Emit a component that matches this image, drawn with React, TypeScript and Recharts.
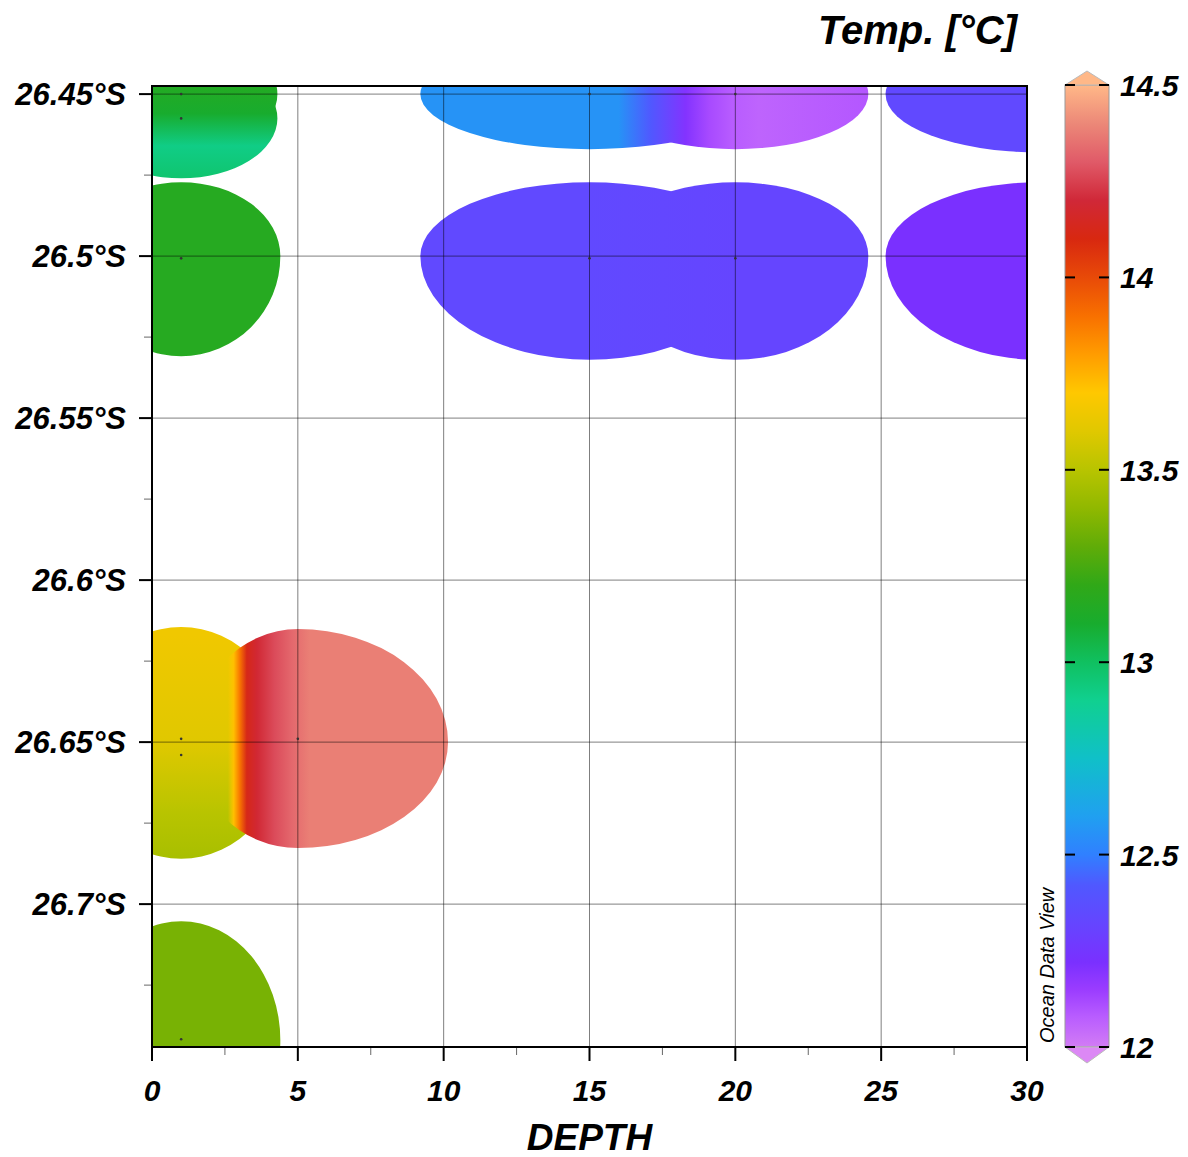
import React from "react";
import {
  ComposedChart,
  XAxis,
  YAxis,
  ReferenceArea,
  ReferenceLine,
  Scatter,
} from "recharts";

const FONT = '"Liberation Sans", Arial, sans-serif';
const W = 1188;
const H = 1157;

// colour scale of the Temp. [°C] bar
const scaleTemps = [12.0, 12.08, 12.15, 12.22, 12.32, 12.42, 12.5, 12.6, 12.75, 12.9, 13.0, 13.1, 13.2, 13.3, 13.4, 13.5, 13.6, 13.7, 13.8, 13.9, 14.0, 14.1, 14.2, 14.3, 14.4, 14.5];
const scaleColors = ["#d27cf5", "#b85cff", "#9a3cff", "#7a30ff", "#6545ff", "#5058ff", "#3080ff", "#20a0f0", "#10c0c8", "#10d090", "#10c060", "#18ac2e", "#30a818", "#60ac08", "#90b800", "#b8c400", "#e0c800", "#ffc800", "#ff9c00", "#f87000", "#e84a08", "#d82810", "#d02838", "#e05a68", "#ec8878", "#ffb888"];

// axes
const xTicks = [0, 2.5, 5, 7.5, 10, 12.5, 15, 17.5, 20, 22.5, 25, 27.5, 30];
const xMajor = [0, 5, 10, 15, 20, 25, 30];
const yTicks = [26.45, 26.475, 26.5, 26.525, 26.55, 26.575, 26.6, 26.625, 26.65, 26.675, 26.7, 26.725];
const yMajor = [26.45, 26.5, 26.55, 26.6, 26.65, 26.7];
const latDomain = [26.4475, 26.7441];
const barTicks = [12, 12.5, 13, 13.5, 14, 14.5];

// sample positions
const stationDepth = [1, 1, 1, 15, 20, 15, 20, 1, 1, 5, 1];
const stationLat = [26.45, 26.4575, 26.5007, 26.45, 26.45, 26.5007, 26.5007, 26.649, 26.654, 26.649, 26.7417];

// gridded field footprints: [depth, lat, reach left, reach right, reach up, reach down]
const lobesTopLeft = [[1, 26.45, 3.3, 3.3, 0.0185, 0.0185], [1, 26.4575, 3.3, 3.3, 0.0185, 0.0185]];
const lobesLeftMid = [[1, 26.5, 3.4, 3.4, 0.0228, 0.0309]];
const lobesTopMid = [[15, 26.45, 5.8, 5.8, 0.017, 0.017], [20, 26.45, 4.56, 4.56, 0.017, 0.017]];
const lobesTopRight = [[30.4, 26.45, 5.25, 5.25, 0.017, 0.018]];
const lobesMid = [[15, 26.5, 5.8, 5.8, 0.0228, 0.032], [20, 26.5, 4.56, 4.56, 0.0228, 0.032]];
const lobesRightMid = [[30.4, 26.5, 5.25, 5.25, 0.0228, 0.032]];
const lobesLow = [[1, 26.65, 3.6, 3.6, 0.0355, 0.036], [5, 26.65, 3.6, 5.15, 0.0349, 0.0327]];
const lobesBottom = [[1, 26.742, 3.4, 3.4, 0.0367, 0.0367]];

// temperature along each footprint: [position, temp, opacity]
const gradTopLeft = [[26.4475, 13.15], [26.456, 13.1], [26.466, 12.92], [26.478, 12.98]];
const gradLeftMid = [[26.5, 13.16]];
const gradTopMid = [[16.0, 12.56], [17.1, 12.42], [18.3, 12.2], [19.1, 12.12], [19.9, 12.08], [20.8, 12.06], [24.5, 12.09]];
const gradTopRight = [[30, 12.34]];
const gradMid = [[15, 12.34], [20, 12.32]];
const gradRightMid = [[30, 12.22]];
const gradLowYellow = [[26.617, 13.65], [26.65, 13.6], [26.672, 13.5], [26.686, 13.46]];
const gradLowRed = [[2.6, 13.7, 0], [2.8, 13.72], [3.0, 13.88], [3.25, 14.12], [3.6, 14.19], [4.2, 14.27], [4.8, 14.33], [5.4, 14.38]];
const gradBottom = [[26.742, 13.35]];

const patches = [
  { id: "tl", lobes: lobesTopLeft, grads: [{ axis: "y", stops: gradTopLeft }] },
  { id: "lm", lobes: lobesLeftMid, grads: [{ axis: "y", stops: gradLeftMid }] },
  { id: "tm", lobes: lobesTopMid, grads: [{ axis: "x", stops: gradTopMid }] },
  { id: "tr", lobes: lobesTopRight, grads: [{ axis: "x", stops: gradTopRight }] },
  { id: "mm", lobes: lobesMid, grads: [{ axis: "x", stops: gradMid }] },
  { id: "rm", lobes: lobesRightMid, grads: [{ axis: "x", stops: gradRightMid }] },
  { id: "lo", lobes: lobesLow, grads: [{ axis: "y", stops: gradLowYellow }, { axis: "x", stops: gradLowRed }] },
  { id: "bt", lobes: lobesBottom, grads: [{ axis: "y", stops: gradBottom }] },
].map((p) => ({
  ...p,
  x1: Math.min(...p.lobes.map((l) => l[0] - l[2])),
  x2: Math.max(...p.lobes.map((l) => l[0] + l[3])),
  y1: Math.min(...p.lobes.map((l) => l[1] - l[4])),
  y2: Math.max(...p.lobes.map((l) => l[1] + l[5])),
}));

const stations = stationDepth.map((d, i) => ({ depth: d, lat: stationLat[i] }));
const barData = barTicks.map((t) => ({ pos: 0.5, temp: t }));

const hex = (h: string) => [1, 3, 5].map((i) => parseInt(h.slice(i, i + 2), 16));

function tempColor(t: number) {
  if (t <= scaleTemps[0]) return scaleColors[0];
  for (let i = 1; i < scaleTemps.length; i++) {
    if (t <= scaleTemps[i]) {
      const f = (t - scaleTemps[i - 1]) / (scaleTemps[i] - scaleTemps[i - 1]);
      const a = hex(scaleColors[i - 1]);
      const b = hex(scaleColors[i]);
      const c = a.map((v, k) => Math.round(v + (b[k] - v) * f));
      return `rgb(${c[0]},${c[1]},${c[2]})`;
    }
  }
  return scaleColors[scaleColors.length - 1];
}

const Patch = (props: any) => {
  const { x, y, width, height, clipPath, patch } = props;
  const px = (d: number) => x + ((d - patch.x1) / (patch.x2 - patch.x1)) * width;
  const py = (l: number) => y + ((l - patch.y1) / (patch.y2 - patch.y1)) * height;
  return (
    <g clipPath={clipPath}>
      <defs>
        {patch.grads.map((g: any, i: number) => {
          const s = g.stops;
          const p0 = s[0][0];
          const p1 = s[s.length - 1][0];
          const span = p1 - p0 || 1;
          const c = g.axis === "x" ? { x1: px(p0), x2: px(p1) + (p1 === p0 ? 1 : 0), y1: 0, y2: 0 } : { x1: 0, x2: 0, y1: py(p0), y2: py(p1) + (p1 === p0 ? 1 : 0) };
          return (
            <linearGradient key={i} id={`grad-${patch.id}-${i}`} gradientUnits="userSpaceOnUse" {...c}>
              {s.map((st: number[], k: number) => (
                <stop key={k} offset={(st[0] - p0) / span} stopColor={tempColor(st[1])} stopOpacity={st[2] ?? 1} />
              ))}
            </linearGradient>
          );
        })}
      </defs>
      {patch.lobes.map((l: number[], i: number) => {
        const cx = px(l[0]);
        const cy = py(l[1]);
        const rl = cx - px(l[0] - l[2]);
        const rr = px(l[0] + l[3]) - cx;
        const ru = cy - py(l[1] - l[4]);
        const rd = py(l[1] + l[5]) - cy;
        const d = `M${cx - rl},${cy} A${rl},${ru} 0 0 1 ${cx},${cy - ru} A${rr},${ru} 0 0 1 ${cx + rr},${cy} A${rr},${rd} 0 0 1 ${cx},${cy + rd} A${rl},${rd} 0 0 1 ${cx - rl},${cy} Z`;
        const gi = Math.min(i, patch.grads.length - 1);
        return <path key={i} d={d} fill={`url(#grad-${patch.id}-${gi})`} stroke="none" />;
      })}
    </g>
  );
};

const labelStyle = { fontFamily: FONT, fontWeight: 700, fontStyle: "italic", fill: "#000" };

const XTick = (props: any) => {
  const { x, y, payload } = props;
  const major = xMajor.includes(payload.value);
  return (
    <g>
      <line x1={x} x2={x} y1={y} y2={y + (major ? 14 : 8)} stroke="#000" strokeWidth={major ? 2 : 1} strokeOpacity={major ? 1 : 0.6} />
      {major && (
        <text x={x} y={y + 54} textAnchor="middle" fontSize={30} {...labelStyle}>
          {payload.value}
        </text>
      )}
    </g>
  );
};

const YTick = (props: any) => {
  const { x, y, payload } = props;
  const major = yMajor.includes(payload.value);
  return (
    <g>
      <line x1={x - (major ? 13 : 8)} x2={x} y1={y} y2={y} stroke="#000" strokeWidth={major ? 2 : 1} strokeOpacity={major ? 1 : 0.6} />
      {major && (
        <text x={x - 26} y={y + 11} textAnchor="end" fontSize={31} {...labelStyle}>
          {`${payload.value}°S`}
        </text>
      )}
    </g>
  );
};

const BarTick = (props: any) => {
  const { x, y, payload } = props;
  return (
    <g>
      <line x1={x - 44} x2={x - 34} y1={y} y2={y} stroke="#000" strokeWidth={2} />
      <line x1={x - 10} x2={x} y1={y} y2={y} stroke="#000" strokeWidth={2} />
      <text x={x + 11} y={y + 11} textAnchor="start" fontSize={30} {...labelStyle}>
        {payload.value}
      </text>
    </g>
  );
};

const ColorBar = (props: any) => {
  const { x, y, width, height } = props;
  const t0 = scaleTemps[0];
  const t1 = scaleTemps[scaleTemps.length - 1];
  return (
    <g>
      <defs>
        <linearGradient id="cbar" gradientUnits="userSpaceOnUse" x1={0} x2={0} y1={y + height} y2={y}>
          {scaleTemps.map((t, i) => (
            <stop key={i} offset={(t - t0) / (t1 - t0)} stopColor={scaleColors[i]} />
          ))}
        </linearGradient>
      </defs>
      <rect x={x} y={y} width={width} height={height} fill="url(#cbar)" stroke="#999" strokeWidth={1} />
      <polygon points={`${x},${y} ${x + width},${y} ${x + width / 2},${y - 14}`} fill={scaleColors[scaleColors.length - 1]} stroke="#bbb" strokeWidth={1} />
      <polygon points={`${x},${y + height} ${x + width},${y + height} ${x + width / 2},${y + height + 16}`} fill="#dc88f5" stroke="#bbb" strokeWidth={1} />
    </g>
  );
};

const Dot = (props: any) => <circle cx={props.cx} cy={props.cy} r={1.3} fill="#333" />;
const NoDot = () => <g />;

export default function App() {
  return (
    <div style={{ position: "absolute", left: 0, top: 0, width: W, height: H, background: "#fff" }}>
      <div style={{ position: "absolute", left: 0, top: 0 }}>
        <ComposedChart width={W} height={H} margin={{ top: 86, right: 161, bottom: 0, left: 12 }}>
          <XAxis
            type="number"
            dataKey="depth"
            domain={[0, 30]}
            ticks={xTicks}
            interval={0}
            allowDataOverflow
            height={110}
            tickSize={0}
            tickMargin={0}
            tickLine={false}
            tick={<XTick />}
            axisLine={{ stroke: "#000", strokeWidth: 2 }}
            label={{ value: "DEPTH", position: "insideBottom", offset: 7, fontSize: 37, ...labelStyle }}
          />
          <YAxis
            type="number"
            dataKey="lat"
            domain={latDomain}
            reversed
            ticks={yTicks}
            interval={0}
            allowDataOverflow
            width={140}
            tickSize={0}
            tickMargin={0}
            tickLine={false}
            tick={<YTick />}
            axisLine={{ stroke: "#000", strokeWidth: 2 }}
          />
          {patches.map((p) => (
            <ReferenceArea
              key={p.id}
              x1={p.x1}
              x2={p.x2}
              y1={p.y1}
              y2={p.y2}
              ifOverflow="hidden"
              shape={(sp: any) => <Patch {...sp} patch={p} />}
            />
          ))}
          {xMajor.slice(1, -1).map((v) => (
            <ReferenceLine key={`gx${v}`} x={v} stroke="#000" strokeOpacity={0.5} strokeWidth={1} />
          ))}
          {yMajor.map((v) => (
            <ReferenceLine key={`gy${v}`} y={v} stroke="#000" strokeOpacity={0.5} strokeWidth={1} />
          ))}
          <Scatter data={stations} shape={<Dot />} isAnimationActive={false} />
          <ReferenceArea x1={0} x2={30} y1={latDomain[0]} y2={latDomain[1]} fill="none" fillOpacity={0} stroke="#000" strokeWidth={2} ifOverflow="visible" />
        </ComposedChart>
      </div>
      <div style={{ position: "absolute", left: 1040, top: 0 }}>
        <ComposedChart width={148} height={H} margin={{ top: 85, right: 0, bottom: 110, left: 25 }}>
          <XAxis type="number" dataKey="pos" domain={[0, 1]} hide />
          <YAxis
            type="number"
            dataKey="temp"
            domain={[12, 14.5]}
            orientation="right"
            ticks={barTicks}
            interval={0}
            width={79}
            tickSize={0}
            tickMargin={0}
            tickLine={false}
            axisLine={false}
            tick={<BarTick />}
          />
          <ReferenceArea x1={0} x2={1} y1={12} y2={14.5} ifOverflow="visible" shape={<ColorBar />} />
          <Scatter data={barData} shape={<NoDot />} isAnimationActive={false} />
        </ComposedChart>
      </div>
      <svg width={W} height={H} style={{ position: "absolute", left: 0, top: 0, pointerEvents: "none" }}>
        <text x={1017} y={44} textAnchor="end" fontSize={40} {...labelStyle}>
          Temp. [°C]
        </text>
        <text transform="translate(1054,1043) rotate(-90)" fontSize={20} fontFamily={FONT} fontStyle="italic" fill="#000">
          Ocean Data View
        </text>
      </svg>
    </div>
  );
}
